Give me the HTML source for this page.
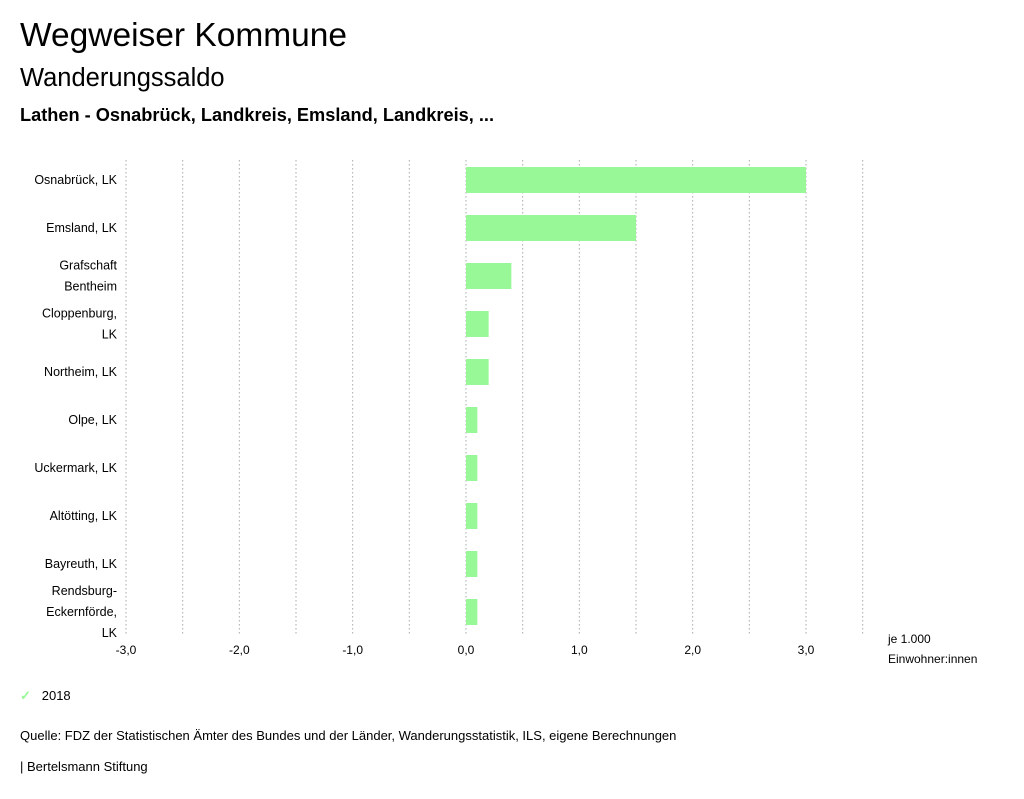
<!DOCTYPE html>
<html><head><meta charset="utf-8"><style>
body{margin:0;width:1024px;height:799px;background:#fff;font-family:"Liberation Sans",sans-serif;color:#000;overflow:hidden;position:relative}
.t{position:absolute;white-space:nowrap}
</style></head><body>
<div class="t" style="left:20px;top:17px;font-size:33.5px">Wegweiser Kommune</div>
<div class="t" style="left:20px;top:64px;font-size:25.5px">Wanderungssaldo</div>
<div class="t" style="left:20px;top:105px;font-size:18.2px;font-weight:bold">Lathen - Osnabrück, Landkreis, Emsland, Landkreis, ...</div>
<svg id="chart" width="1024" height="700" style="position:absolute;left:0;top:0" font-family="Liberation Sans, sans-serif"></svg>
<div class="t" style="left:20px;top:688px;font-size:13px"><span style="color:#98f898;font-weight:bold">✓</span>&nbsp;&nbsp;&nbsp;2018</div>
<div class="t" style="left:20px;top:728px;font-size:13px">Quelle: FDZ der Statistischen Ämter des Bundes und der Länder, Wanderungsstatistik, ILS, eigene Berechnungen</div>
<div class="t" style="left:20px;top:759px;font-size:13px">| Bertelsmann Stiftung</div>
<script>
const categories=[["Osnabrück, LK"],["Emsland, LK"],["Grafschaft","Bentheim"],["Cloppenburg,","LK"],["Northeim, LK"],["Olpe, LK"],["Uckermark, LK"],["Altötting, LK"],["Bayreuth, LK"],["Rendsburg-","Eckernförde,","LK"]];
const values2018=[3.0,1.5,0.4,0.2,0.2,0.1,0.1,0.1,0.1,0.1];
const tickValues=[-3,-2,-1,0,1,2,3];
const tickLabels=["-3,0","-2,0","-1,0","0,0","1,0","2,0","3,0"];
const gridValues=[-3,-2.5,-2,-1.5,-1,-0.5,0,0.5,1,1.5,2,2.5,3,3.5];
const svg=document.getElementById('chart');const NS='http://www.w3.org/2000/svg';
const x=v=>466+v*(340/3);
const rowH=48, top0=156, y=i=>top0+i*rowH+24;
function mk(t,a,txt){const e=document.createElementNS(NS,t);for(const k in a)e.setAttribute(k,a[k]);if(txt!=null)e.textContent=txt;svg.appendChild(e);return e;}
gridValues.forEach(v=>{const l=mk('line',{x1:x(v),x2:x(v),y1:160,y2:636,stroke:'#aaa','stroke-dasharray':'1.5,2.5'});

});
values2018.forEach((v,i)=>{const r=mk('rect',{x:Math.min(x(0),x(v)),y:y(i)-13,width:Math.abs(x(v)-x(0)),height:26,fill:'#98f898'});

});
categories.forEach((c,i)=>{const n=c.length;c.forEach((s,j)=>{const t=mk('text',{x:117,y:y(i)+4+(j-(n-1)/2)*21,'text-anchor':'end','font-size':12.5},s);

});});
tickValues.forEach((v,i)=>{const t=mk('text',{x:x(v),y:654,'text-anchor':'middle','font-size':12},tickLabels[i]);

});
const u1=mk('text',{x:888,y:643,'font-size':12},'je 1.000');


const u2=mk('text',{x:888,y:663,'font-size':12},'Einwohner:innen');


</script>
</body></html>
